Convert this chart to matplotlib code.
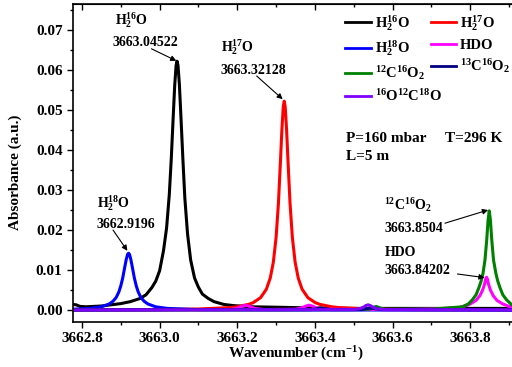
import matplotlib.pyplot as plt
from matplotlib.ticker import MultipleLocator

# spectra (wavenumber in cm-1, absorbance in a.u.)
H2_16O_X = [3662.777, 3662.785, 3662.795, 3662.81, 3662.85, 3662.90, 3662.925, 3662.95,
            3662.965, 3662.98, 3662.99, 3663.00, 3663.010, 3663.018, 3663.025, 3663.030,
            3663.035, 3663.039, 3663.0425, 3663.045, 3663.0475, 3663.051, 3663.055, 3663.060,
            3663.065, 3663.072, 3663.080, 3663.090, 3663.100, 3663.110, 3663.125, 3663.140,
            3663.165, 3663.19, 3663.24, 3663.30, 3663.40, 3663.50, 3663.70, 3663.92]
H2_16O_Y = [0.0014, 0.0013, 0.0009, 0.0008, 0.0010, 0.0016, 0.0021, 0.0029,
            0.0038, 0.0056, 0.0072, 0.0098, 0.0148, 0.0205, 0.0289, 0.0377,
            0.0482, 0.0563, 0.0611, 0.0622, 0.0611, 0.0563, 0.0482, 0.0377,
            0.0280, 0.0190, 0.0125, 0.0080, 0.0057, 0.0040, 0.0029, 0.0021,
            0.0014, 0.0011, 0.0008, 0.0007, 0.0005, 0.0004, 0.0004, 0.0004]

H2_17O_X = [3662.777, 3663.00, 3663.10, 3663.18, 3663.20, 3663.23, 3663.241, 3663.26,
            3663.275, 3663.285, 3663.293, 3663.300, 3663.306, 3663.311, 3663.315, 3663.3185,
            3663.321, 3663.3235, 3663.327, 3663.331, 3663.336, 3663.342, 3663.349, 3663.357,
            3663.367, 3663.382, 3663.401, 3663.412, 3663.442, 3663.462, 3663.54, 3663.65,
            3663.92]
H2_17O_Y = [0.0001, 0.0001, 0.00025, 0.0006, 0.00082, 0.00143, 0.00184, 0.00308,
            0.0052, 0.0080, 0.0120, 0.0181, 0.0266, 0.0366, 0.0452, 0.0508,
            0.0522, 0.0508, 0.0452, 0.0366, 0.0266, 0.0181, 0.0120, 0.0080,
            0.0052, 0.00308, 0.00184, 0.00143, 0.00082, 0.0006, 0.00025, 0.0001,
            0.0001]

H2_18O_X = [3662.777, 3662.82, 3662.85, 3662.87, 3662.88, 3662.888, 3662.895, 3662.900,
            3662.905, 3662.910, 3662.914, 3662.9175, 3662.920, 3662.9225, 3662.926, 3662.930,
            3662.935, 3662.940, 3662.945, 3662.952, 3662.960, 3662.970, 3662.990, 3663.02,
            3663.10, 3663.30, 3663.92]
H2_18O_Y = [0.0002, 0.0004, 0.0008, 0.0015, 0.0022, 0.0031, 0.0045, 0.0060,
            0.0080, 0.0106, 0.0126, 0.0139, 0.0142, 0.0139, 0.0126, 0.0106,
            0.0080, 0.0060, 0.0045, 0.0031, 0.0022, 0.0015, 0.0008, 0.0004,
            0.0001, 0.0, 0.0]

HDO_X = [3662.777, 3663.18, 3663.20, 3663.212, 3663.222, 3663.232, 3663.245, 3663.27,
         3663.35, 3663.365, 3663.377, 3663.385, 3663.393, 3663.405, 3663.43, 3663.60,
         3663.72, 3663.77, 3663.79, 3663.80, 3663.815, 3663.825, 3663.832, 3663.837,
         3663.8395, 3663.842, 3663.8445, 3663.847, 3663.852, 3663.859, 3663.869, 3663.884,
         3663.90, 3663.92]
HDO_Y = [0.0, 0.0001, 0.0004, 0.0009, 0.0012, 0.0009, 0.0004, 0.0001,
         0.0002, 0.0005, 0.0010, 0.0012, 0.0010, 0.0005, 0.0002, 0.0001,
         0.0003, 0.0006, 0.0011, 0.0015, 0.0024, 0.0036, 0.0050, 0.0065,
         0.0077, 0.0082, 0.0077, 0.0065, 0.0050, 0.0036, 0.0024, 0.0015,
         0.0009, 0.0006]

CO2_626_X = [3662.777, 3663.50, 3663.54, 3663.552, 3663.558, 3663.565, 3663.58, 3663.70,
             3663.78, 3663.795, 3663.805, 3663.815, 3663.822, 3663.828, 3663.833, 3663.838,
             3663.8425, 3663.846, 3663.849, 3663.852, 3663.8555, 3663.860, 3663.866, 3663.871,
             3663.877, 3663.884, 3663.894, 3663.908, 3663.92]
CO2_626_Y = [0.0, 0.0001, 0.0002, 0.0007, 0.0009, 0.0006, 0.0002, 0.0002,
             0.0008, 0.0015, 0.0025, 0.0038, 0.0055, 0.0072, 0.0092, 0.0125,
             0.0175, 0.0225, 0.0248, 0.0225, 0.0175, 0.0125, 0.0092, 0.0072,
             0.0055, 0.0038, 0.0025, 0.0012, 0.0010]

CO2_636_X = [3662.777, 3663.39, 3663.405, 3663.415, 3663.425, 3663.44, 3663.52, 3663.535,
             3663.545, 3663.555, 3663.57, 3663.92]
CO2_636_Y = [0.0, 0.0001, 0.0003, 0.0005, 0.0003, 0.0001, 0.0001, 0.0004,
             0.0005, 0.0003, 0.0001, 0.0]

CO2_628_X = [3662.777, 3663.50, 3663.515, 3663.525, 3663.531, 3663.537, 3663.543, 3663.55,
             3663.56, 3663.58, 3663.92]
CO2_628_Y = [0.0, 0.0001, 0.0003, 0.0007, 0.0011, 0.0013, 0.0011, 0.0007,
             0.0003, 0.0001, 0.0]

plt.rcParams["font.family"] = ["Liberation Serif", "DejaVu Serif"]
plt.rcParams["font.weight"] = "bold"
plt.rcParams["axes.labelweight"] = "bold"
plt.rcParams["mathtext.fontset"] = "custom"
plt.rcParams["mathtext.rm"] = "Liberation Serif:bold"
plt.rcParams["mathtext.bf"] = "Liberation Serif:bold"
plt.rcParams["mathtext.default"] = "rm"

fig = plt.figure(figsize=(5.12, 3.67), dpi=100)
ax = fig.add_axes([0.1426, 0.1226, 0.8668, 0.8665])

lw = 2.2
l1, = ax.plot(H2_16O_X, H2_16O_Y, color="black", lw=lw, label=r"H$_2^{16}$O")
l2, = ax.plot(H2_17O_X, H2_17O_Y, color="#ff0000", lw=lw, label=r"H$_2^{17}$O")
l3, = ax.plot(H2_18O_X, H2_18O_Y, color="#0000ff", lw=lw, label=r"H$_2^{18}$O")
l4, = ax.plot(HDO_X, HDO_Y, color="#ff00ff", lw=lw, label="HDO")
l5, = ax.plot(CO2_626_X, CO2_626_Y, color="#008000", lw=lw, label=r"$^{12}$C$^{16}$O$_2$")
l6, = ax.plot(CO2_636_X, CO2_636_Y, color="#000080", lw=lw, label=r"$^{13}$C$^{16}$O$_2$")
l7, = ax.plot(CO2_628_X, CO2_628_Y, color="#8000ff", lw=lw, label=r"$^{16}$O$^{12}$C$^{18}$O")

ax.set_xlim(3662.777, 3663.92)
ax.set_ylim(-0.003, 0.0765)
ax.xaxis.set_major_locator(MultipleLocator(0.2))
ax.xaxis.set_minor_locator(MultipleLocator(0.1))
ax.yaxis.set_major_locator(MultipleLocator(0.01))
ax.yaxis.set_minor_locator(MultipleLocator(0.005))
ax.xaxis.set_major_formatter(plt.FuncFormatter(lambda v, p: f"{v:.1f}"))
ax.yaxis.set_major_formatter(plt.FuncFormatter(lambda v, p: f"{v:.2f}"))
ax.tick_params(which="major", direction="out", length=4, width=1, labelsize=11)
ax.tick_params(which="minor", direction="out", length=2.5, width=1)
for s in ax.spines.values():
    s.set_linewidth(1.2)

top = ax.secondary_xaxis("top")
top.xaxis.set_major_locator(MultipleLocator(0.2))
top.xaxis.set_minor_locator(MultipleLocator(0.1))
top.tick_params(which="major", direction="in", length=4, width=1, labeltop=False)
top.tick_params(which="minor", direction="in", length=2.5, width=1)

ax.set_xlabel(r"Wavenumber (cm$^{-1}$)", fontsize=11)
ax.set_ylabel("Absorbance (a.u.)", fontsize=11)
ax.xaxis.set_label_coords(0.502, -0.072)
ax.yaxis.set_label_coords(-0.115, 0.47)

leg = ax.legend(handles=[l1, l3, l5, l7, l2, l4, l6], ncol=2, frameon=False,
                fontsize=10.5, loc="upper left", bbox_to_anchor=(0.594, 1.0),
                handlelength=1.75, handletextpad=0.25, columnspacing=-0.72,
                labelspacing=0.4, borderaxespad=0.2)
for h in leg.legend_handles:
    h.set_linewidth(2.0)

arrow = dict(arrowstyle="-|>", color="black", lw=0.8, mutation_scale=8,
             shrinkA=0, shrinkB=0)
ax.text(3662.885, 0.0725, r"H$_2^{16}$O", fontsize=10, va="center")
ax.text(3662.879, 0.0670, "3663.04522", fontsize=10, va="center")
ax.annotate("", xy=(3663.043, 0.0623), xytext=(3662.979, 0.0653), arrowprops=arrow)

ax.text(3663.158, 0.0657, r"H$_2^{17}$O", fontsize=10, va="center")
ax.text(3663.156, 0.0600, "3663.32128", fontsize=10, va="center")
ax.annotate("", xy=(3663.317, 0.0527), xytext=(3663.250, 0.0585), arrowprops=arrow)

ax.text(3662.838, 0.0268, r"H$_2^{18}$O", fontsize=10, va="center")
ax.text(3662.838, 0.0215, "3662.9196", fontsize=10, va="center")
ax.annotate("", xy=(3662.917, 0.0148), xytext=(3662.880, 0.0200), arrowprops=arrow)

ax.text(3663.579, 0.0262, r"$^{12}$C$^{16}$O$_2$", fontsize=10, va="center")
ax.text(3663.579, 0.0205, "3663.8504", fontsize=10, va="center")
ax.annotate("", xy=(3663.846, 0.0250), xytext=(3663.735, 0.0217), arrowprops=arrow)

ax.text(3663.579, 0.0143, "HDO", fontsize=10, va="center")
ax.text(3663.579, 0.0100, "3663.84202", fontsize=10, va="center")
ax.annotate("", xy=(3663.837, 0.0081), xytext=(3663.767, 0.0090), arrowprops=arrow)

ax.text(3663.48, 0.0428, "P=160 mbar", fontsize=11, va="center")
ax.text(3663.736, 0.0428, "T=296 K", fontsize=11, va="center")
ax.text(3663.48, 0.0385, "L=5 m", fontsize=11, va="center")

fig.savefig("out.png", dpi=100)
